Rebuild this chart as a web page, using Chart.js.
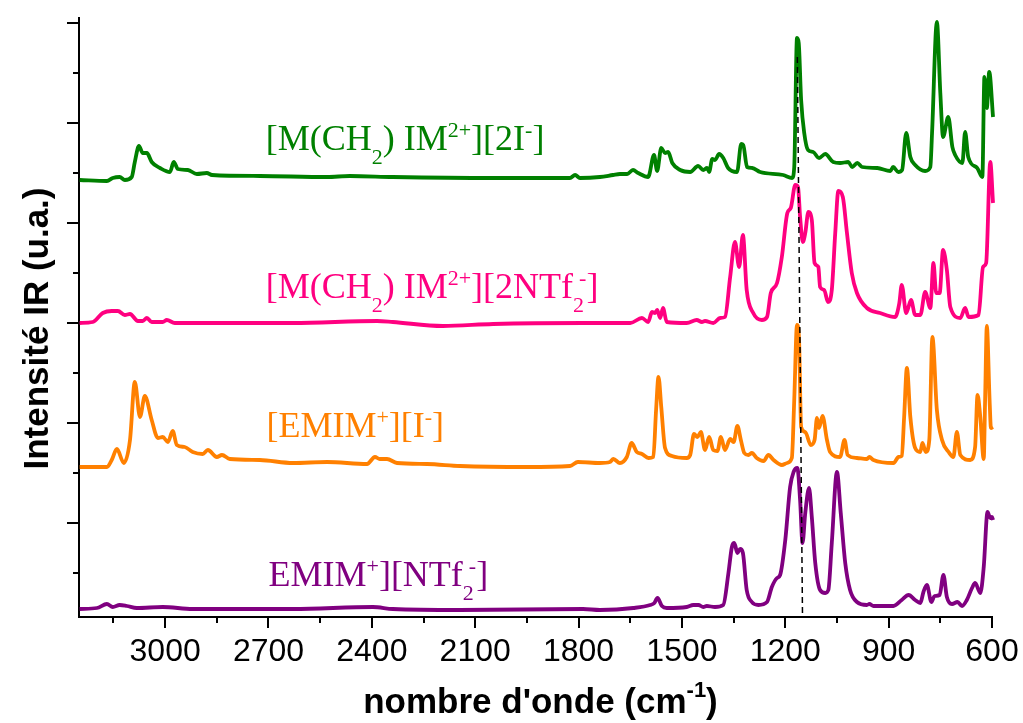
<!DOCTYPE html>
<html>
<head>
<meta charset="utf-8">
<script src="https://cdn.jsdelivr.net/npm/chart.js@4"></script>
<style>
  html, body { margin: 0; padding: 0; background: #fff; }
  #wrap { width: 1023px; height: 723px; }
</style>
</head>
<body>
<div id="wrap"><canvas id="irChart" width="1023" height="723"></canvas></div>
<script>
// ================= DATA =================
// wavenumbers (cm-1) and intensities (a.u., stacked offsets included)
const greenWn = [3248, 3169, 3152, 3132, 3117, 3097, 3088, 3076, 3065, 3053, 3039, 3015, 2986, 2975, 2963, 2934, 2908, 2879, 2864, 2725, 2530, 2464, 2339, 2048, 1825, 1810, 1796,
  1738, 1700, 1680, 1659, 1642, 1627, 1598, 1581, 1572, 1560, 1549, 1540, 1528, 1505, 1476, 1453, 1438, 1427, 1421, 1412, 1404, 1392, 1380, 1366, 1340, 1328, 1322, 1311, 1296, 1273, 1206, 1180, 1174, 1166, 1161, 1154, 1145, 1134, 1119, 1102, 1084, 1061, 1041, 1017, 1006, 991, 977, 933, 895, 887, 872, 861, 849, 837, 823, 794, 779, 774, 760, 750, 742, 727, 715, 707, 686, 678, 669, 643, 628, 622, 615, 608, 597];
const greenI = [437, 436, 439, 440, 437, 440, 455, 471, 464, 464, 455, 449, 445, 455, 448, 447, 443, 444, 442, 441, 440, 441, 440, 439, 439, 442, 439,
  440, 442, 443, 443, 447, 444, 440, 462, 446, 469, 464, 465, 454, 447, 445, 451, 447, 449, 445, 458, 457, 463, 459, 449, 445, 473, 472, 450, 449, 445, 442, 439, 450, 579, 574, 517, 484, 467, 465, 459, 463, 455, 454, 455, 450, 454, 450, 449, 446, 450, 445, 447, 484, 460, 452, 446, 450, 484, 595, 524, 480, 500, 470, 462, 454, 485, 460, 449, 440, 540, 509, 545, 500];

const pinkWn = [3248, 3210, 3181, 3155, 3137, 3117, 3102, 3079, 3065, 3053, 3039, 3007, 2995, 2972, 2629, 2385, 2339, 2194, 2048, 1787,
  1738, 1650, 1616, 1598, 1587, 1578, 1572, 1563, 1555, 1544, 1486, 1457, 1442, 1433, 1409, 1389, 1375, 1360, 1346, 1334, 1323, 1312, 1293, 1268, 1253, 1242, 1224, 1210, 1194, 1184, 1171, 1163, 1157, 1149, 1142, 1133, 1123, 1115, 1104, 1099, 1087, 1076, 1065, 1055, 1046, 1033, 1021, 1007, 992, 963, 925, 881, 869, 862, 849, 835, 823, 808, 794, 779, 770, 762, 752, 742, 731, 721, 692, 678, 668, 639, 626, 617, 605, 597];
const pinkI = [294, 295, 304, 306, 306, 302, 303, 296, 296, 299, 295, 295, 297, 294, 294, 296, 295, 291, 293, 294,
  294, 294, 299, 295, 305, 304, 307, 299, 309, 295, 294, 297, 295, 296, 294, 299, 300, 340, 375, 350, 382, 327, 304, 297, 300, 324, 334, 360, 404, 409, 432, 430, 400, 375, 384, 405, 397, 354, 350, 330, 327, 315, 327, 384, 426, 420, 384, 344, 324, 309, 304, 300, 314, 332, 304, 317, 302, 302, 325, 309, 354, 324, 324, 367, 347, 310, 299, 309, 300, 302, 350, 354, 455, 414];

const orangeWn = [3248, 3169, 3155, 3140, 3120, 3102, 3088, 3073, 3059, 3039, 3021, 3007, 2992, 2978, 2966, 2943, 2920, 2891, 2876, 2850, 2835, 2812, 2725, 2629, 2530, 2414, 2391, 2377, 2356, 2327, 2240, 2144, 1950, 1825, 1802,
  1738, 1709, 1699, 1680, 1660, 1646, 1631, 1616, 1597, 1583, 1575, 1568, 1560, 1549, 1529, 1486, 1476, 1465, 1455, 1445, 1433, 1421, 1409, 1397, 1387, 1375, 1360, 1350, 1339, 1329, 1319, 1307, 1297, 1283, 1263, 1249, 1234, 1210, 1195, 1181, 1174, 1166, 1160, 1154, 1142, 1126, 1115, 1108, 1102, 1092, 1079, 1070, 1041, 1028, 1019, 992, 963, 956, 944, 886, 871, 862, 855, 847, 837, 823, 808, 802, 792, 782, 773, 760, 745, 726, 712, 702, 692, 663, 649, 642, 634, 624, 620, 615, 607, 603, 597];
const orangeI = [150, 150, 157, 168, 154, 177, 235, 200, 221, 197, 179, 180, 175, 186, 172, 170, 165, 163, 167, 160, 162, 158, 157, 154, 155, 153, 160, 158, 158, 154, 153, 151, 150, 151, 155,
  154, 155, 158, 154, 160, 174, 165, 163, 159, 160, 207, 240, 210, 169, 161, 159, 162, 183, 180, 185, 167, 180, 167, 166, 180, 167, 178, 175, 191, 177, 164, 162, 164, 159, 156, 162, 157, 152, 154, 159, 217, 292, 277, 190, 185, 172, 177, 199, 189, 201, 177, 165, 160, 177, 162, 159, 158, 160, 157, 154, 160, 161, 200, 249, 200, 169, 165, 174, 165, 177, 280, 207, 177, 165, 160, 185, 162, 157, 170, 222, 200, 158, 217, 291, 217, 189, 190];

const purpleWn = [3248, 3198, 3169, 3152, 3132, 3111, 3082, 3007, 2920, 2629, 2397, 2339, 2144, 1787,
  1738, 1641, 1592, 1580, 1571, 1558, 1544, 1486, 1467, 1452, 1438, 1428, 1404, 1380, 1365, 1355, 1348, 1339, 1331, 1323, 1312, 1297, 1278, 1253, 1239, 1224, 1215, 1200, 1186, 1176, 1165, 1157, 1150, 1142, 1131, 1123, 1113, 1099, 1084, 1075, 1065, 1050, 1039, 1026, 1012, 992, 963, 956, 944, 886, 862, 842, 823, 808, 799, 789, 776, 767, 752, 741, 731, 716, 700, 687, 673, 658, 649, 634, 624, 613, 605, 600, 597];
const purpleI = [8, 9, 13, 10, 12, 11, 9, 10, 8, 8, 10, 8, 7, 8,
  7, 9, 12, 14, 19, 11, 9, 10, 12, 12, 10, 11, 10, 12, 44, 70, 74, 64, 68, 64, 27, 15, 12, 15, 30, 39, 42, 77, 130, 145, 149, 117, 74, 104, 129, 100, 54, 27, 24, 27, 74, 145, 104, 54, 27, 15, 12, 13, 11, 11, 17, 22, 17, 14, 25, 32, 15, 21, 22, 42, 20, 13, 15, 11, 17, 29, 34, 24, 50, 105, 99, 100, 97];

// dashed guide line (wavenumber, intensity)
const guideWn = [1165, 1150];
const guideI = [560, 0];

// axes
const xMajor = [3000, 2700, 2400, 2100, 1800, 1500, 1200, 900, 600];
const xMinor = [3150, 2850, 2550, 2250, 1950, 1650, 1350, 1050, 750];
const yTickVals = [44, 94, 144, 194, 244, 294, 344, 394, 444, 494, 544, 594];

// labels: [text, kind, backstep]
const labelGreen = [["[M(CH", "n"], ["2", "sub"], [") IM", "n"], ["2+", "sup"], ["][2I", "n"], ["-", "sup"], ["]", "n"]];
const labelPink = [["[M(CH", "n"], ["2", "sub"], [") IM", "n"], ["2+", "sup"], ["][2NTf", "n"], ["2", "sub"], ["-", "sup", 5], ["]", "n"]];
const labelOrange = [["[EMIM", "n"], ["+", "sup"], ["][I", "n"], ["-", "sup"], ["]", "n"]];
const labelPurple = [["EMIM", "n"], ["+", "sup"], ["][NTf", "n"], ["2", "sub"], ["-", "sup", 5], ["]", "n"]];

const COLORS = { green: "#008000", pink: "#ff0080", orange: "#ff8000", purple: "#800080" };

const seriesLabels = [
  { parts: labelGreen, wn: 2708, y: 467, color: COLORS.green },
  { parts: labelPink, wn: 2708, y: 319, color: COLORS.pink },
  { parts: labelOrange, wn: 2706, y: 180, color: COLORS.orange },
  { parts: labelPurple, wn: 2700, y: 31, color: COLORS.purple }
];

function toPoints(wn, vals) {
  return wn.map((w, i) => ({ x: w, y: vals[i] }));
}

function spectrum(wn, vals, color) {
  return {
    data: toPoints(wn, vals),
    borderColor: color,
    borderWidth: 3.8,
    pointRadius: 0,
    fill: false,
    cubicInterpolationMode: "monotone",
    clip: 4,
    order: 1
  };
}

// ================= RICH TEXT HELPER =================
function drawRich(ctx, parts, x, y, size, family, color) {
  let cx = x;
  ctx.fillStyle = color;
  ctx.textBaseline = "alphabetic";
  ctx.textAlign = "left";
  parts.forEach(([t, kind, back]) => {
    const small = kind !== "n";
    const fs = small ? Math.round(size * 0.62) : size;
    let dy = 0;
    if (kind === "sup") dy = -size * 0.36;
    if (kind === "sub") dy = size * 0.38;
    ctx.font = `${fs}px ${family}`;
    if (back) cx -= back;
    ctx.fillText(t, cx, y + dy);
    cx += ctx.measureText(t).width;
  });
  return cx - x;
}

// ================= DECOR PLUGIN (ticks, titles, labels) =================
const decor = {
  id: "decor",
  afterDraw(chart) {
    const { ctx, chartArea, scales } = chart;
    const xs = scales.x, ys = scales.y;
    ctx.save();
    ctx.strokeStyle = "#000";
    ctx.lineWidth = 2;
    ctx.beginPath();
    xMajor.forEach(v => {
      const px = Math.round(xs.getPixelForValue(v));
      ctx.moveTo(px, chartArea.bottom); ctx.lineTo(px, chartArea.bottom + 11);
    });
    xMinor.forEach(v => {
      const px = Math.round(xs.getPixelForValue(v));
      ctx.moveTo(px, chartArea.bottom); ctx.lineTo(px, chartArea.bottom + 6);
    });
    yTickVals.forEach((v, i) => {
      const py = Math.round(ys.getPixelForValue(v));
      const len = i % 2 === 1 ? 12 : 6;
      ctx.moveTo(chartArea.left, py); ctx.lineTo(chartArea.left - len, py);
    });
    ctx.stroke();

    // series labels
    seriesLabels.forEach(l => {
      drawRich(ctx, l.parts, xs.getPixelForValue(l.wn), ys.getPixelForValue(l.y), 36, "'Liberation Serif', serif", l.color);
    });

    // x title
    const tf = "'Liberation Sans', Arial, sans-serif";
    const xt = [["nombre d'onde (cm", "n"], ["-1", "sup"], [")", "n"]];
    let w = 0;
    xt.forEach(([t, k]) => {
      ctx.font = `bold ${k === "n" ? 35 : 22}px ${tf}`;
      w += ctx.measureText(t).width;
    });
    let cx = (chartArea.left + chartArea.right) / 2 + 5 - w / 2;
    const by = chartArea.bottom + 96;
    ctx.fillStyle = "#000";
    ctx.textAlign = "left";
    ctx.textBaseline = "alphabetic";
    xt.forEach(([t, k]) => {
      ctx.font = `bold ${k === "n" ? 35 : 22}px ${tf}`;
      ctx.fillText(t, cx, by + (k === "sup" ? -16 : 0));
      cx += ctx.measureText(t).width;
    });

    // y title
    ctx.translate(38, (chartArea.top + chartArea.bottom) / 2 + 11);
    ctx.rotate(-Math.PI / 2);
    ctx.font = `bold 35px ${tf}`;
    ctx.textAlign = "center";
    ctx.textBaseline = "middle";
    ctx.fillText("Intensité IR (u.a.)", 0, 0);
    ctx.restore();
  }
};

// ================= CHART =================
const ctx = document.getElementById("irChart").getContext("2d");
const chart = new Chart(ctx, {
  type: "line",
  data: {
    datasets: [
      spectrum(greenWn, greenI, COLORS.green),
      spectrum(pinkWn, pinkI, COLORS.pink),
      spectrum(orangeWn, orangeI, COLORS.orange),
      spectrum(purpleWn, purpleI, COLORS.purple),
      {
        data: toPoints(guideWn, guideI),
        borderColor: "#000",
        borderWidth: 1.5,
        borderDash: [6, 4],
        pointRadius: 0,
        fill: false,
        order: 0
      }
    ]
  },
  options: {
    responsive: false,
    maintainAspectRatio: false,
    animation: false,
    layout: { padding: { left: 0, right: 31, top: 18, bottom: 0 } },
    plugins: { legend: { display: false }, tooltip: { enabled: false } },
    scales: {
      x: {
        type: "linear",
        reverse: true,
        min: 600,
        max: 3250,
        afterBuildTicks: s => { s.ticks = xMajor.map(v => ({ value: v })); },
        afterFit: s => { s.height = 106; s.paddingLeft = 0; s.paddingRight = 0; },
        grid: { display: false, drawTicks: false },
        border: { display: true, color: "#000", width: 2 },
        ticks: {
          autoSkip: false,
          maxRotation: 0,
          padding: 16,
          color: "#000",
          font: { family: "'Liberation Sans', Arial, sans-serif", size: 32 },
          callback: v => `${v}`
        }
      },
      y: {
        type: "linear",
        min: 0,
        max: 599,
        afterFit: s => { s.width = 79; s.paddingTop = 0; s.paddingBottom = 0; },
        grid: { display: false, drawTicks: false },
        border: { display: true, color: "#000", width: 2 },
        ticks: { display: false }
      }
    }
  },
  plugins: [decor]
});
</script>
</body>
</html>
